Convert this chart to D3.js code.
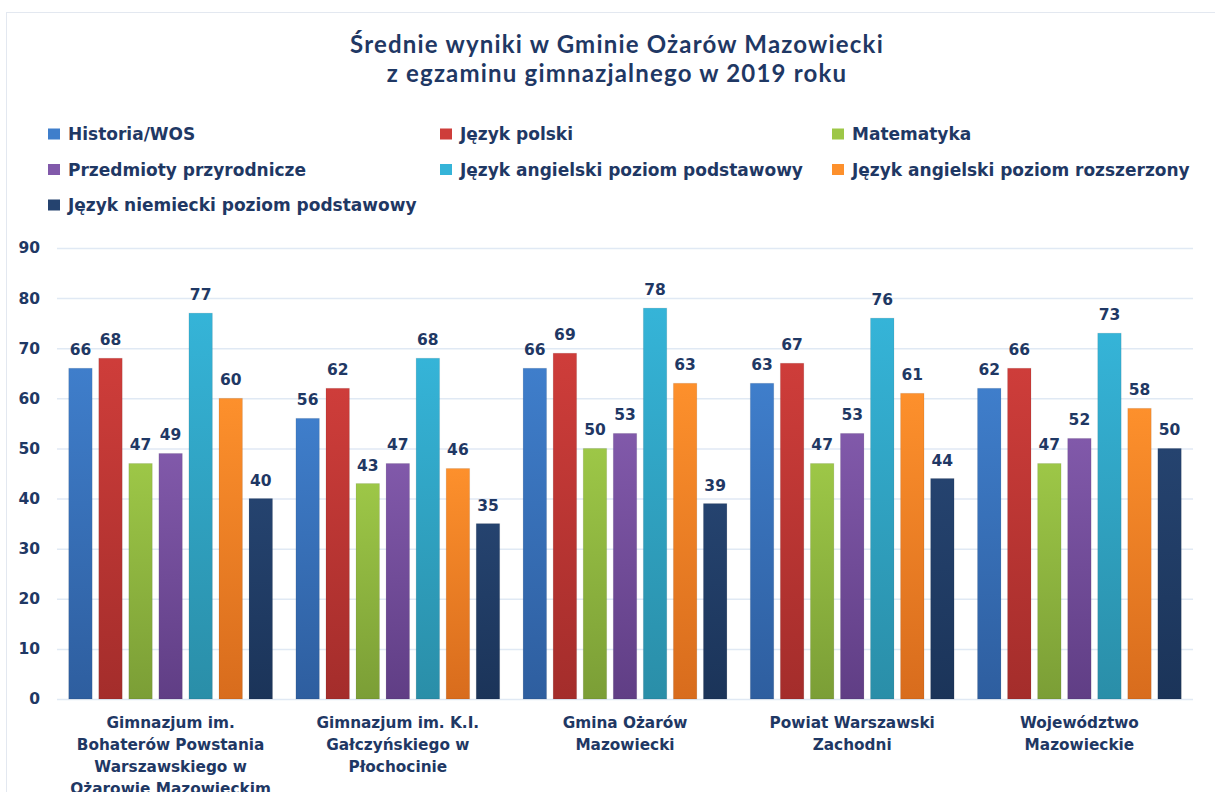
<!DOCTYPE html>
<meta charset="utf-8">
<style>
body { margin: 0; background: #fff; }
text { font-family: "DejaVu Sans", sans-serif; fill: #1f3864; }
.title { font-family: "Lato", sans-serif; font-weight: bold; font-size: 24px; letter-spacing: 1.2px; }
.legend text { font-size: 17px; font-weight: bold; }
.tick text { font-size: 15.5px; font-weight: bold; }
.val { font-size: 15.5px; font-weight: bold; }
.cat { font-size: 15.3px; font-weight: bold; }
</style>
<body>
<svg id="chart" width="1215" height="792"></svg>
</body>
<script src="https://cdn.jsdelivr.net/npm/d3@7"></script>
<script>

var categories = [
  ["Gimnazjum im.", "Bohaterów Powstania", "Warszawskiego w", "Ożarowie Mazowieckim"],
  ["Gimnazjum im. K.I.", "Gałczyńskiego w", "Płochocinie"],
  ["Gmina Ożarów", "Mazowiecki"],
  ["Powiat Warszawski", "Zachodni"],
  ["Województwo", "Mazowieckie"]
];
var series = [
  "Historia/WOS",
  "Język polski",
  "Matematyka",
  "Przedmioty przyrodnicze",
  "Język angielski poziom podstawowy",
  "Język angielski poziom rozszerzony",
  "Język niemiecki poziom podstawowy"
];
// values per category, in series order
var values = [
  [66, 68, 47, 49, 77, 60, 40],
  [56, 62, 43, 47, 68, 46, 35],
  [66, 69, 50, 53, 78, 63, 39],
  [63, 67, 47, 53, 76, 61, 44],
  [62, 66, 47, 52, 73, 58, 50]
];
var yTicks = [0, 10, 20, 30, 40, 50, 60, 70, 80, 90];
var colorsTop = ["#3f7ecb", "#ce3d3a", "#9dc747", "#8159aa", "#35b4d8", "#fd902c", "#25436f"];
var colorsBottom = ["#2e5e9f", "#a42d2b", "#7b9e36", "#603e85", "#2a8ea8", "#d86c1d", "#1b3459"];

var svg = d3.select("#chart");

// outer frame
svg.append("rect")
    .attr("x", 6.5).attr("y", 12.5)
    .attr("width", 1220).attr("height", 800)
    .attr("fill", "none")
    .attr("stroke", "#e3e8f0");

var defs = svg.append("defs");
series.forEach(function(s, i) {
  var g = defs.append("linearGradient")
      .attr("id", "grad" + i)
      .attr("x1", 0).attr("y1", 0).attr("x2", 0).attr("y2", 1);
  g.append("stop").attr("offset", "0%").attr("stop-color", colorsTop[i]);
  g.append("stop").attr("offset", "100%").attr("stop-color", colorsBottom[i]);
});

// title
svg.append("text").attr("class", "title")
    .attr("x", 617).attr("y", 53).attr("text-anchor", "middle")
    .text("Średnie wyniki w Gminie Ożarów Mazowiecki");
svg.append("text").attr("class", "title")
    .attr("x", 617).attr("y", 82).attr("text-anchor", "middle")
    .text("z egzaminu gimnazjalnego w 2019 roku");

// legend
var legend = svg.append("g").attr("class", "legend");
series.forEach(function(s, i) {
  var lx = 48 + (i % 3) * 392,
      ly = 134 + Math.floor(i / 3) * 35.5;
  legend.append("rect")
      .attr("x", lx).attr("y", ly - 5.5)
      .attr("width", 12).attr("height", 11)
      .attr("fill", colorsTop[i]);
  legend.append("text")
      .attr("x", lx + 20).attr("y", ly + 6)
      .text(s);
});

var margin = {left: 57, right: 1193, top: 248, bottom: 699};

var x0 = d3.scaleBand()
    .domain(d3.range(categories.length))
    .range([margin.left, margin.right]);

var x1 = d3.scaleBand()
    .domain(d3.range(series.length))
    .range([0, x0.bandwidth()])
    .paddingInner(0.22)
    .paddingOuter(0.39);

var y = d3.scaleLinear()
    .domain([0, 90])
    .range([margin.bottom, margin.top]);

// gridlines + y labels
var yAxis = svg.append("g")
    .attr("class", "y axis")
    .attr("transform", "translate(" + margin.left + ",0)")
    .call(d3.axisLeft(y).tickValues(yTicks).tickSize(-(margin.right - margin.left)));
yAxis.select(".domain").remove();
yAxis.selectAll(".tick line").attr("stroke", "#e0e9f4").attr("stroke-width", 1.5);
yAxis.selectAll(".tick text").attr("fill", "#1f3864").attr("text-anchor", "end").attr("x", -17);

// bars
var groups = svg.selectAll(".group")
    .data(values)
  .enter().append("g")
    .attr("class", "group")
    .attr("transform", function(d, i) { return "translate(" + x0(i) + ",0)"; });

groups.selectAll("rect")
    .data(function(d) { return d; })
  .enter().append("rect")
    .attr("x", function(d, i) { return x1(i); })
    .attr("y", function(d) { return y(d); })
    .attr("width", x1.bandwidth())
    .attr("height", function(d) { return y(0) - y(d); })
    .attr("fill", function(d, i) { return "url(#grad" + i + ")"; })
    .attr("stroke", "rgba(0,0,0,0.08)");

groups.selectAll(".val")
    .data(function(d) { return d; })
  .enter().append("text")
    .attr("class", "val")
    .attr("x", function(d, i) { return x1(i) + x1.bandwidth() / 2; })
    .attr("y", function(d) { return y(d) - 13; })
    .attr("text-anchor", "middle")
    .text(function(d) { return d; });

// category labels
svg.selectAll(".cat")
    .data(categories)
  .enter().append("text")
    .attr("class", "cat")
    .attr("text-anchor", "middle")
    .attr("x", function(d, i) { return x0(i) + x0.bandwidth() / 2; })
    .attr("y", 728)
    .each(function(d) {
      var t = d3.select(this);
      d.forEach(function(line, j) {
        t.append("tspan")
            .attr("x", t.attr("x"))
            .attr("dy", j === 0 ? 0 : 22)
            .text(line);
      });
    });

</script>
